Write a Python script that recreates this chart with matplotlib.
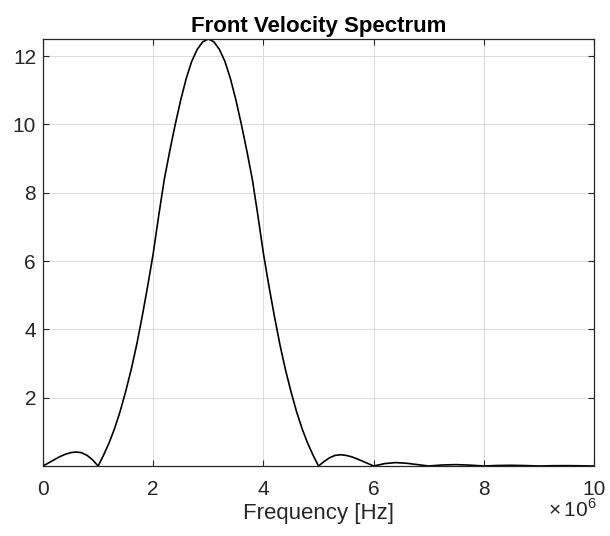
import numpy as np
import matplotlib
matplotlib.use("Agg")
from matplotlib import pyplot as plt

# frequency in MHz (axis shows x 10^6) and spectrum magnitude
freq_mhz = [0.0, 0.1, 0.2, 0.3, 0.4, 0.5, 0.6, 0.7, 0.8, 0.9,
            1.0, 1.1, 1.2, 1.3, 1.4, 1.5, 1.6, 1.7, 1.8, 1.9,
            2.0, 2.1, 2.2, 2.3, 2.4, 2.5, 2.6, 2.7, 2.8, 2.9,
            3.0, 3.1, 3.2, 3.3, 3.4, 3.5, 3.6, 3.7, 3.8, 3.9,
            4.0, 4.1, 4.2, 4.3, 4.4, 4.5, 4.6, 4.7, 4.8, 4.9,
            5.0, 5.1, 5.2, 5.3, 5.4, 5.5, 5.6, 5.7, 5.8, 5.9,
            6.0, 6.2, 6.4, 6.6, 6.8, 7.0, 7.25, 7.5, 7.75, 8.0,
            8.25, 8.5, 8.75, 9.0, 9.25, 9.5, 9.75, 10.0]
magnitude = [0.0, 0.09, 0.18, 0.27, 0.34, 0.39, 0.41, 0.39, 0.31, 0.18,
             0.0, 0.32, 0.68, 1.1, 1.6, 2.18, 2.82, 3.55, 4.38, 5.27,
             6.22, 7.33, 8.38, 9.22, 10.0, 10.72, 11.35, 11.85, 12.2, 12.42,
             12.5, 12.42, 12.2, 11.85, 11.35, 10.72, 10.0, 9.22, 8.38, 7.33,
             6.22, 5.27, 4.38, 3.55, 2.82, 2.18, 1.6, 1.1, 0.68, 0.32,
             0.0, 0.13, 0.24, 0.31, 0.33, 0.31, 0.27, 0.21, 0.14, 0.07,
             0.0, 0.07, 0.10, 0.08, 0.04, 0.0, 0.03, 0.04, 0.025, 0.0,
             0.015, 0.02, 0.012, 0.0, 0.008, 0.01, 0.006, 0.0]

x_ticks = [0, 2, 4, 6, 8, 10]
y_ticks = [2, 4, 6, 8, 10, 12]

plt.rcParams['font.family'] = ['Liberation Sans', 'DejaVu Sans']
plt.rcParams['mathtext.fontset'] = 'custom'
plt.rcParams['mathtext.rm'] = 'Liberation Sans'

axis_gray = '#262626'

fig = plt.figure(figsize=(6.10, 5.36), dpi=100)
ax = fig.add_axes([0.0705, 0.1306, 0.9033, 0.7966])

ax.plot(freq_mhz, magnitude, color='black', linewidth=1.2)

ax.set_xlim(0, 10)
ax.set_ylim(0, 12.5)
ax.set_xticks(x_ticks)
ax.set_yticks(y_ticks)
ax.grid(True, color='#dcdcdc', linewidth=0.8)
ax.set_axisbelow(True)

ax.tick_params(direction='in', top=True, right=True, length=4,
               width=0.8, color=axis_gray, labelcolor=axis_gray, labelsize=15)
ax.tick_params(axis='x', pad=10)
ax.tick_params(axis='y', pad=5)
for spine in ax.spines.values():
    spine.set_color(axis_gray)
    spine.set_linewidth(0.9)

ax.set_title('Front Velocity Spectrum', fontsize=16, fontweight='bold', pad=5)
ax.set_xlabel('Frequency [Hz]', fontsize=16, color=axis_gray, labelpad=3)
ax.text(597 / 610, 19 / 536, r'${\times}\,10^{6}$', transform=fig.transFigure, ha='right', va='baseline',
        fontsize=15, color=axis_gray)

fig.savefig('out.png', dpi=100)
